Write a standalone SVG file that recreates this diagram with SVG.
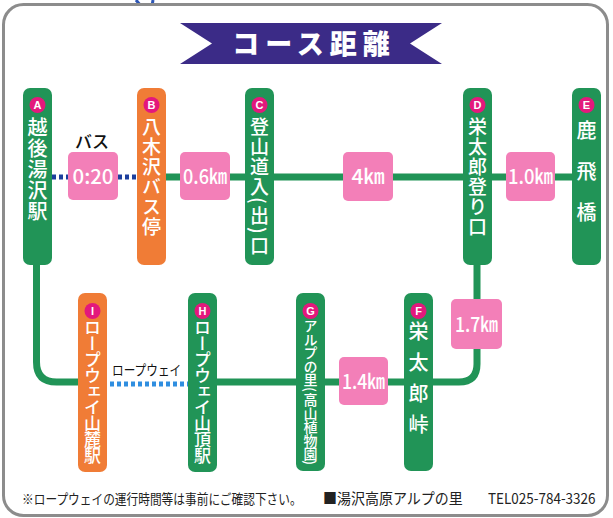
<svg xmlns="http://www.w3.org/2000/svg" width="613" height="518" viewBox="0 0 613 518">
<style>
.g{fill:#219457}
.o{fill:#f07c36}
.bd{fill:#e3187c}
.bt{fill:#fff;font-family:"Liberation Sans",Arial,sans-serif;font-weight:bold;font-size:11px;text-anchor:middle}
.vt{fill:#fff;font-family:"Noto Sans CJK JP","Noto Sans",sans-serif;font-weight:500;writing-mode:vertical-rl}
.km{fill:#f37fb8}
.kt{fill:#fff;font-family:"Noto Sans CJK JP","Noto Sans",sans-serif;font-weight:500;font-size:20px;text-anchor:middle}
.ln{fill:none;stroke:#219457;stroke-width:7}
.ft{fill:#222;font-family:"Noto Sans CJK JP","Noto Sans",sans-serif}
</style>
<rect width="613" height="518" fill="#fff"/>
<path d="M136,0 L141,6 M153,0 L152,6" stroke="#2c55b5" stroke-width="3" fill="none"/>
<rect x="3.5" y="4.5" width="604" height="511" rx="20" fill="#fff" stroke="#8c8c8c" stroke-width="3"/>

<g id="title">
<path d="M180,23 H442 L410,43.5 L442,64 H180 L212,43.5 Z" fill="#3b2b87"/>
<text x="314" y="54" fill="#fff" font-family="'Noto Sans CJK JP',sans-serif" font-weight="900" font-size="27" letter-spacing="6" text-anchor="middle">コース距離</text>
</g>

<g id="connectors">
<path class="ln" d="M151.5,177 H586.5"/>
<path d="M52,177 H68 M118,177 H137" fill="none" stroke="#1c3f9d" stroke-width="5" stroke-dasharray="4 3"/>
<path class="ln" d="M36.5,265 V362 Q36.5,382 56.5,382 H78"/>
<path d="M110,384 H188" fill="none" stroke="#2f8ee0" stroke-width="5" stroke-dasharray="4 3"/>
<path class="ln" d="M217,382 H459 Q477,382 477,364 V265"/>
<text x="92" y="148" font-family="'Noto Sans CJK JP',sans-serif" font-weight="500" font-size="17" text-anchor="middle" fill="#111">バス</text>
<text font-family="'Noto Sans CJK JP',sans-serif" font-size="14" fill="#111" transform="translate(112,375) scale(0.833,1)">ロープウェイ</text>
</g>

<g id="labels">
<rect class="km" x="68" y="152" width="50" height="48" rx="5"/>
<text class="kt" x="93" y="184" textLength="41" lengthAdjust="spacingAndGlyphs">0:20</text>
<rect class="km" x="180" y="152" width="50" height="48" rx="5"/>
<text class="kt" x="205" y="184" textLength="44" lengthAdjust="spacingAndGlyphs">0.6㎞</text>
<rect class="km" x="343" y="152" width="50" height="49" rx="5"/>
<text class="kt" x="368" y="184" textLength="33" lengthAdjust="spacingAndGlyphs">4㎞</text>
<rect class="km" x="506" y="152" width="49" height="49" rx="5"/>
<text class="kt" x="530.5" y="184" textLength="45" lengthAdjust="spacingAndGlyphs">1.0㎞</text>
<rect class="km" x="451" y="299" width="51" height="50" rx="5"/>
<text class="kt" x="476.5" y="332" textLength="43" lengthAdjust="spacingAndGlyphs">1.7㎞</text>
<rect class="km" x="339" y="357" width="49" height="48" rx="5"/>
<text class="kt" x="363.5" y="389" textLength="43" lengthAdjust="spacingAndGlyphs">1.4㎞</text>
</g>

<g id="node-A">
<rect class="g" x="23" y="88" width="29" height="177" rx="7"/>
<circle class="bd" cx="37.5" cy="105" r="8"/><text class="bt" x="37.5" y="109">A</text>
<text class="vt" x="37.5" y="117" font-size="20" letter-spacing="1">越後湯沢駅</text>
</g>
<g id="node-B">
<rect class="o" x="137" y="88" width="29" height="177" rx="7"/>
<circle class="bd" cx="151.5" cy="105" r="8"/><text class="bt" x="151.5" y="109">B</text>
<text class="vt" x="151.5" y="117" font-size="19" letter-spacing="1">八木沢バス停</text>
</g>
<g id="node-C">
<rect class="g" x="245" y="88" width="29" height="177" rx="7"/>
<circle class="bd" cx="259.5" cy="105" r="8"/><text class="bt" x="259.5" y="109">C</text>
<text class="vt" x="259.5" y="117" font-size="19" letter-spacing="1">登山道入<tspan letter-spacing="3">(</tspan>出<tspan letter-spacing="3">)</tspan>口</text>
</g>
<g id="node-D">
<rect class="g" x="463" y="88" width="29" height="177" rx="7"/>
<circle class="bd" cx="477.5" cy="105" r="8"/><text class="bt" x="477.5" y="109">D</text>
<text class="vt" x="477.5" y="117" font-size="19" letter-spacing="1">栄太郎登り口</text>
</g>
<g id="node-E">
<rect class="g" x="572" y="88" width="29" height="177" rx="7"/>
<circle class="bd" cx="586.5" cy="105" r="8"/><text class="bt" x="586.5" y="109">E</text>
<text class="vt" x="586.5" y="120" font-size="20" letter-spacing="21">鹿飛橋</text>
</g>
<g id="node-I">
<rect class="o" x="78" y="293" width="29" height="179" rx="7"/>
<circle class="bd" cx="92.5" cy="311" r="8"/><text class="bt" x="92.5" y="315">I</text>
<text class="vt" x="92.5" y="319" font-size="17" letter-spacing="-1">ロープウェイ山麓駅</text>
</g>
<g id="node-H">
<rect class="g" x="188" y="293" width="29" height="179" rx="7"/>
<circle class="bd" cx="202.5" cy="311" r="8"/><text class="bt" x="202.5" y="315">H</text>
<text class="vt" x="202.5" y="319" font-size="17" letter-spacing="-1">ロープウェイ山頂駅</text>
</g>
<g id="node-G">
<rect class="g" x="296" y="293" width="29" height="178" rx="7"/>
<circle class="bd" cx="310.5" cy="311" r="8"/><text class="bt" x="310.5" y="315">G</text>
<text class="vt" x="310.5" y="319" font-size="14" letter-spacing="-0.5">アルプの里<tspan letter-spacing="1.5">(</tspan>高山植物園<tspan letter-spacing="0">)</tspan></text>
</g>
<g id="node-F">
<rect class="g" x="404" y="293" width="29" height="178" rx="7"/>
<circle class="bd" cx="418.5" cy="311" r="8"/><text class="bt" x="418.5" y="315">F</text>
<text class="vt" x="418.5" y="321" font-size="20" letter-spacing="11">栄太郎峠</text>
</g>

<g id="footer">
<text class="ft" font-size="14" transform="translate(22,504) scale(0.836,1)">※ロープウェイの運行時間等は事前にご確認下さい。</text>
<text class="ft" font-size="15" transform="translate(323,504) scale(0.933,1)">■湯沢高原アルプの里</text>
<text class="ft" font-size="15" transform="translate(488,504) scale(0.9,1)">TEL025-784-3326</text>
</g>
</svg>
